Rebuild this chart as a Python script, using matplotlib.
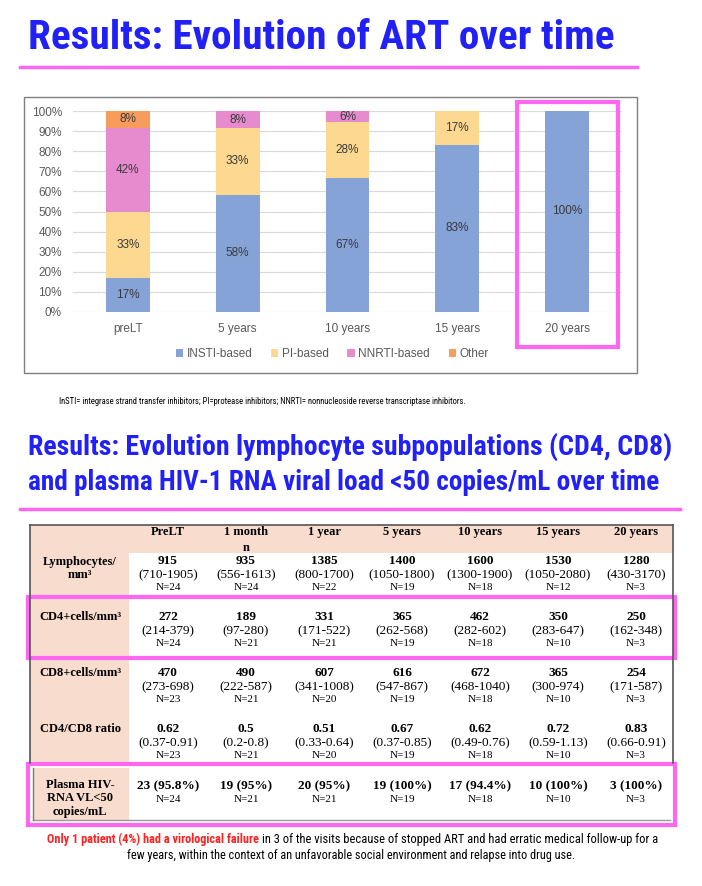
import matplotlib.pyplot as plt
from matplotlib.patches import Rectangle
import numpy as np

W, H = 702, 886

# ---- ART regimen shares (%) ----
art_cats = ['preLT', '5 years', '10 years', '15 years', '20 years']
insti = [16.7, 58.3, 66.7, 83.3, 100]
pi = [33.3, 33.3, 27.8, 16.7, 0]
nnrti = [41.7, 8.3, 5.6, 0, 0]
other = [8.3, 0, 0, 0, 0]
series_names = ['INSTI-based', 'PI-based', 'NNRTI-based', 'Other']
series_colors = ['#86A3D8', '#FCD890', '#E68BCE', '#F89C5E']

# ---- lymphocyte / viral load table ----
col_labels = ['PreLT', '1 month\nn', '1 year', '5 years', '10 years', '15 years', '20 years']
row_labels = ['Lymphocytes/\nmm³', 'CD4+cells/mm³', 'CD8+cells/mm³', 'CD4/CD8 ratio']
lymph_med = ['915', '935', '1385', '1400', '1600', '1530', '1280']
lymph_iqr = ['710-1905', '556-1613', '800-1700', '1050-1800', '1300-1900', '1050-2080', '430-3170']
lymph_n = [24, 24, 22, 19, 18, 12, 3]
cd4_med = ['272', '189', '331', '365', '462', '350', '250']
cd4_iqr = ['214-379', '97-280', '171-522', '262-568', '282-602', '283-647', '162-348']
cd4_n = [24, 21, 21, 19, 18, 10, 3]
cd8_med = ['470', '490', '607', '616', '672', '365', '254']
cd8_iqr = ['273-698', '222-587', '341-1008', '547-867', '468-1040', '300-974', '171-587']
cd8_n = [23, 21, 20, 19, 18, 10, 3]
ratio_med = ['0.62', '0.5', '0.51', '0.67', '0.62', '0.72', '0.83']
ratio_iqr = ['0.37-0.91', '0.2-0.8', '0.33-0.64', '0.37-0.85', '0.49-0.76', '0.59-1.13', '0.66-0.91']
ratio_n = [23, 21, 20, 19, 18, 10, 3]
vl_label = 'Plasma HIV-\nRNA VL<50\ncopies/mL'
vl_count = [23, 19, 20, 19, 17, 10, 3]
vl_pct = ['95.8', '95', '95', '100', '94.4', '100', '100']
vl_n = [24, 21, 21, 19, 18, 10, 3]

BLUE = '#2121F7'
PINK = '#FF66F2'
PEACH = '#F8DDCF'
NARROW = ['Liberation Sans Narrow', 'Roboto Condensed', 'Liberation Sans', 'DejaVu Sans']
SANS = ['Liberation Sans', 'DejaVu Sans']
SERIF = ['Liberation Serif', 'DejaVu Serif']

fig = plt.figure(figsize=(W / 100, H / 100), dpi=100)

# overlay axes in pixel coordinates for slide decorations and the table
ov = fig.add_axes([0, 0, 1, 1], zorder=-1)
ov.set_xlim(0, W)
ov.set_ylim(H, 0)
ov.axis('off')

# texts whose font size is adjusted to the width they take in the slide
to_fit = []


def slide_text(x, y, s, width, **kw):
    t = ov.text(x, y, s, family=NARROW, va='center', **kw)
    to_fit.append((t, width))
    return t


# titles
slide_text(28, 38, 'Results: Evolution of ART over time', 587, color=BLUE,
           fontsize=28, fontweight='bold', ha='left')
ov.plot([20, 637], [67, 67], color=PINK, lw=2.5)

# chart frame
ov.add_patch(Rectangle((24, 97), 613, 276, fill=False, ec='#7F7F7F', lw=1))

# ---- stacked bar chart ----
ax = fig.add_axes([73 / W, 1 - 312 / H, 549 / W, 201 / H])
x = np.arange(len(art_cats))
bottom = np.zeros(len(art_cats))
for name, vals, c in zip(series_names, [insti, pi, nnrti, other], series_colors):
    bars = ax.bar(x, vals, 0.4, bottom=bottom, color=c, label=name, zorder=2)
    ax.bar_label(bars, labels=[f'{v:.0f}%' if v > 0 else '' for v in vals],
                 label_type='center', fontsize=8.5, color='#3A3A3A', family=SANS)
    bottom += np.array(vals)

ax.set_xlim(-0.5, len(art_cats) - 0.5)
ax.set_ylim(0, 100)
ax.set_yticks(np.arange(0, 101, 10))
ax.set_yticklabels([f'{t}%' for t in range(0, 101, 10)])
ax.set_xticks(x)
ax.set_xticklabels(art_cats)
ax.tick_params(length=0, labelsize=8.5, labelcolor='#595959')
ax.tick_params(axis='y', pad=8)
ax.tick_params(axis='x', pad=8)
for lab in ax.get_xticklabels() + ax.get_yticklabels():
    lab.set_family(SANS)
ax.grid(axis='y', color='#D9D9D9', lw=0.8, zorder=0)
for s in ax.spines.values():
    s.set_visible(False)
ax.legend(loc='center', bbox_to_anchor=(0.472, -0.21), ncol=4, frameon=False,
          handlelength=0.6, handleheight=0.6, handletextpad=0.3, columnspacing=1.6,
          prop={'family': SANS, 'size': 8.5}, labelcolor='#595959')
# highlight of the last bar
ax.add_patch(Rectangle((len(art_cats) - 1 - 0.46, -17.4), 0.92, 121.9, fill=False,
                       ec=PINK, lw=3, transform=ax.transData, clip_on=False, zorder=5))

slide_text(59, 401, 'InSTI= integrase strand transfer inhibitors; PI=protease inhibitors; '
           'NNRTI= nonnucleoside reverse transcriptase inhibitors.', 418,
           fontsize=7, ha='left')

slide_text(28, 447, 'Results: Evolution lymphocyte subpopulations (CD4, CD8)', 645,
           color=BLUE, fontsize=25, fontweight='bold', ha='left')
slide_text(28, 482, 'and plasma HIV-1 RNA viral load <50 copies/mL over time', 632,
           color=BLUE, fontsize=25, fontweight='bold', ha='left')
ov.plot([20, 680], [509, 509], color=PINK, lw=2.5)

# ---- table ----
tl, tr, tt, tb = 30, 673, 525, 763
lab_w = 99
ov.add_patch(Rectangle((tl, tt), tr - tl, 28, color=PEACH, lw=0))
ov.add_patch(Rectangle((tl, tt), lab_w, tb - tt, color=PEACH, lw=0))
ov.plot([tl, tr], [tt, tt], color='#555555', lw=1.2)
ov.plot([tl, tl], [tt, tb], color='#555555', lw=1.2)
ov.plot([tr, tr], [tt, tb], color='#555555', lw=1.2)

col_x = 168 + 78 * np.arange(len(col_labels))
for cx, lab in zip(col_x, col_labels):
    ov.text(cx, 526, lab, fontsize=9, fontweight='bold', family=SERIF,
            ha='center', va='top', linespacing=1.4)

rows = [(lymph_med, lymph_iqr, lymph_n), (cd4_med, cd4_iqr, cd4_n),
        (cd8_med, cd8_iqr, cd8_n), (ratio_med, ratio_iqr, ratio_n)]
for r, (lab, (med, iqr, n)) in enumerate(zip(row_labels, rows)):
    y0 = 561 + 56 * r
    ov.text(80, y0 - 5 if '\n' in lab else y0, lab, fontsize=9, fontweight='bold',
            family=SERIF, ha='center', va='top' if '\n' in lab else 'center',
            linespacing=1.15)
    for cx, m, q, nn in zip(col_x, med, iqr, n):
        ov.text(cx, y0, m, fontsize=9.5, fontweight='bold', family=SERIF, ha='center', va='center')
        ov.text(cx, y0 + 14, f'({q})', fontsize=9.5, family=SERIF, ha='center', va='center')
        ov.text(cx, y0 + 27, f'N={nn}', fontsize=8, family=SERIF, ha='center', va='center')

# viral load row
ov.add_patch(Rectangle((33, 768), 96, 52, color=PEACH, lw=0))
ov.plot([33, 670], [820, 820], color='#999999', lw=1)
ov.plot([33, 33], [768, 820], color='#777777', lw=1)
ov.text(80, 779, vl_label, fontsize=9, fontweight='bold', family=SERIF,
        ha='center', va='top', linespacing=1.15)
for cx, cnt, pct, nn in zip(col_x, vl_count, vl_pct, vl_n):
    ov.text(cx, 786, f'{cnt} ({pct}%)', fontsize=9.5, fontweight='bold', family=SERIF,
            ha='center', va='center')
    ov.text(cx, 799, f'N={nn}', fontsize=8, family=SERIF, ha='center', va='center')

# highlight boxes
ov.add_patch(Rectangle((28, 597), 647, 61, fill=False, ec=PINK, lw=3))
ov.add_patch(Rectangle((28, 764), 647, 61, fill=False, ec=PINK, lw=3))

# footer
slide_text(259, 839, 'Only 1 patient (4%) had a virological failure', 213, color='#FF2020',
           fontsize=9, fontweight='bold', ha='right')
slide_text(262, 839, 'in 3 of the visits because of stopped ART and had erratic medical '
           'follow-up for a', 395, fontsize=9, ha='left')
slide_text(351, 855, 'few years, within the context of an unfavorable social environment '
           'and relapse into drug use.', 448, fontsize=9, ha='center')

# shrink / grow the slide texts to the width they have in the slide
fig.canvas.draw()
renderer = fig.canvas.get_renderer()
for t, width in to_fit:
    w = t.get_window_extent(renderer).width
    t.set_fontsize(t.get_fontsize() * width / w)

fig.savefig('out.png', dpi=100)
